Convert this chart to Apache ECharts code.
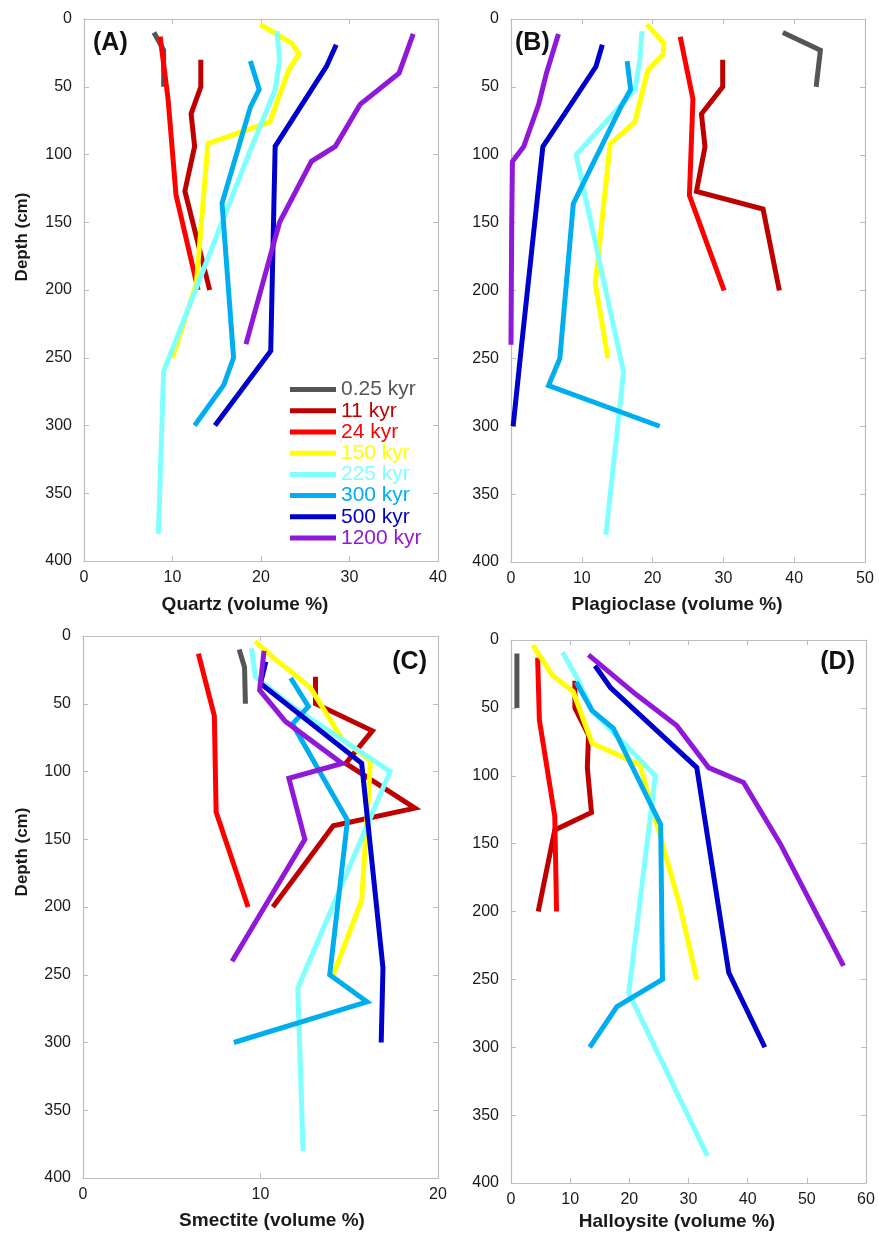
<!DOCTYPE html>
<html><head><meta charset="utf-8">
<script src="https://cdn.jsdelivr.net/npm/echarts@6/dist/echarts.min.js"></script>
<style>html,body{margin:0;padding:0;background:#fff}#c{width:879px;height:1234px}</style>
</head><body><div id="c"></div><script>
// ---- categories ----
const ages = ['0.25 kyr', '11 kyr', '24 kyr', '150 kyr', '225 kyr', '300 kyr', '500 kyr', '1200 kyr'];
const ageColors = ['#555555', '#BE0000', '#FF0000', '#FFFF00', '#80FFFF', '#00AEEF', '#0000CC', '#9018D8'];
const depthTicks = [0, 50, 100, 150, 200, 250, 300, 350, 400];

// ---- sample depths (cm) per age ----
const depth_025 = [10, 23, 50];
const depth_11 = [30, 50, 70, 94, 127, 140, 200];
const depth_24 = [13, 59, 130, 200];
const depth_150 = [4, 18, 26, 38, 76, 92, 195, 250];
const depth_225 = [9, 30, 52, 100, 260, 380];
const depth_300 = [31, 52, 65, 136, 250, 270, 300];
const depth_500 = [19, 35, 94, 245, 300];
const depth_1200 = [11, 40, 63, 94, 105, 150, 240];

// ---- Quartz (volume %) ----
const quartz_025 = [7.9, 9.0, 9.0];
const quartz_11 = [13.2, 13.2, 12.1, 12.5, 11.4, 11.9, 14.2];
const quartz_24 = [8.6, 9.5, 10.4, 12.9];
const quartz_150 = [19.9, 23.5, 24.3, 23.1, 21.0, 14.0, 12.7, 10.0];
const quartz_225 = [21.8, 22.1, 21.6, 18.6, 9.0, 8.4];
const quartz_300 = [18.8, 19.8, 18.8, 15.6, 16.9, 15.8, 12.5];
const quartz_500 = [28.5, 27.4, 21.6, 21.1, 14.8];
const quartz_1200 = [37.2, 35.6, 31.2, 28.4, 25.7, 22.1, 18.3];

// ---- Plagioclase (volume %) ----
const plag_025 = [38.4, 43.7, 43.1];
const plag_11 = [29.9, 29.9, 26.9, 27.4, 26.2, 35.6, 37.9];
const plag_24 = [23.9, 25.7, 25.2, 30.1];
const plag_150 = [19.2, 21.6, 21.5, 19.3, 17.5, 14.0, 11.9, 13.7];
const plag_225 = [18.5, 18.2, 17.5, 9.2, 15.9, 13.4];
const plag_300 = [16.4, 16.9, 15.5, 8.8, 6.9, 5.3, 21.0];
const plag_500 = [12.9, 12.0, 4.5, 1.4, 0.3];
const plag_1200 = [6.7, 5.0, 3.9, 1.8, 0.2, 0.1, 0.0];

// ---- Smectite (volume %) ----
const smec_025 = [8.8, 9.1, 9.15];
const smec_11 = [13.1, 13.1, 16.3, 14.8, 18.7, 14.1, 10.7];
const smec_24 = [6.5, 7.4, 7.5, 9.3];
const smec_150 = [9.7, 10.9, 11.7, 12.8, 14.6, 16.2, 15.7, 14.1];
const smec_225 = [9.5, 9.7, 11.8, 17.3, 12.1, 12.4];
const smec_300 = [11.7, 12.7, 11.8, 14.9, 13.9, 16.0, 8.5];
const smec_500 = [10.3, 10.0, 15.7, 16.9, 16.8];
const smec_1200 = [10.2, 9.95, 11.4, 14.6, 11.6, 12.5, 8.4];

// ---- Halloysite (volume %) ----
const hall_025 = [1.0, 1.0, 1.0];
const hall_11 = [10.8, 10.8, 13.1, 12.9, 13.6, 7.4, 4.6];
const hall_24 = [4.5, 4.8, 7.4, 7.7];
const hall_150 = [3.7, 5.8, 7.0, 10.5, 13.7, 21.8, 28.5, 31.4];
const hall_225 = [8.7, 11.4, 13.7, 24.4, 19.9, 33.2];
const hall_300 = [11.0, 13.7, 17.3, 25.3, 25.6, 17.9, 13.3];
const hall_500 = [14.2, 16.8, 31.4, 36.8, 42.9];
const hall_1200 = [13.1, 21.1, 28.0, 33.4, 39.3, 45.5, 56.2];

const depths = [depth_025, depth_11, depth_24, depth_150, depth_225, depth_300, depth_500, depth_1200];

const panelTitles = ['Quartz (volume %)', 'Plagioclase (volume %)', 'Smectite (volume %)', 'Halloysite (volume %)'];
const panelLetters = ['(A)', '(B)', '(C)', '(D)'];
const panelValues = [
  [quartz_025, quartz_11, quartz_24, quartz_150, quartz_225, quartz_300, quartz_500, quartz_1200],
  [plag_025, plag_11, plag_24, plag_150, plag_225, plag_300, plag_500, plag_1200],
  [smec_025, smec_11, smec_24, smec_150, smec_225, smec_300, smec_500, smec_1200],
  [hall_025, hall_11, hall_24, hall_150, hall_225, hall_300, hall_500, hall_1200]
];
const xMaxes = [40, 50, 20, 60];

// ---- layout ----
const FONT = '"Liberation Sans", Arial, Helvetica, sans-serif';
const grids = [
  {left: 84, top: 19, width: 354, height: 542},
  {left: 511, top: 19, width: 354, height: 543},
  {left: 83, top: 636, width: 355, height: 542},
  {left: 511, top: 640, width: 355, height: 543}
];
const axisColor = '#bcbcbc';
const xAxes = [], yAxes = [], series = [];
grids.forEach((g, i) => {
  const common = {
    gridIndex: i, type: 'value', min: 0,
    axisLine: {show: true, onZero: false, lineStyle: {color: axisColor, width: 1.2}},
    axisTick: {show: true, inside: true, length: 5, lineStyle: {color: axisColor}},
    splitLine: {show: false}
  };
  xAxes.push(Object.assign({}, common, {position: 'bottom', max: xMaxes[i], interval: 10,
    axisLabel: {show: true, color: '#1a1a1a', fontSize: 16, fontFamily: FONT, margin: 9}}));
  xAxes.push(Object.assign({}, common, {position: 'top', max: xMaxes[i], interval: 10, axisLabel: {show: false}}));
  yAxes.push(Object.assign({}, common, {position: 'left', max: 400, interval: 50, inverse: true,
    axisLabel: {show: true, color: '#1a1a1a', fontSize: 16, fontFamily: FONT, margin: 12}}));
  yAxes.push(Object.assign({}, common, {position: 'right', max: 400, interval: 50, inverse: true, axisLabel: {show: false}}));
  panelValues[i].forEach((vals, k) => {
    series.push({
      type: 'line', name: ages[k], xAxisIndex: i * 2, yAxisIndex: i * 2,
      data: vals.map((v, j) => [v, depths[k][j]]),
      showSymbol: false, symbol: 'none', silent: true, animation: false,
      color: ageColors[k],
      lineStyle: {color: ageColors[k], width: 5, join: 'miter'}
    });
  });
});

const graphics = [];
// axis titles
const titlePos = [[245, 605], [677, 605], [272, 1221], [677, 1222]];
titlePos.forEach((p, i) => {
  graphics.push({type: 'text', x: p[0], y: p[1], style: {text: panelTitles[i], fill: '#1a1a1a',
    font: 'bold 19px ' + FONT, textAlign: 'center', textVerticalAlign: 'middle'}});
});
// depth titles
[[22, 237], [22, 852]].forEach(p => {
  graphics.push({type: 'text', x: p[0], y: p[1], rotation: Math.PI / 2,
    style: {text: 'Depth (cm)', fill: '#1a1a1a', font: 'bold 17px ' + FONT, textAlign: 'center', textVerticalAlign: 'middle'}});
});
// panel letters
[[93, 43, 'left'], [515, 43, 'left'], [427, 662, 'right'], [855, 662, 'right']].forEach((p, i) => {
  graphics.push({type: 'text', x: p[0], y: p[1], style: {text: panelLetters[i], fill: '#111',
    font: 'bold 25px ' + FONT, textAlign: p[2], textVerticalAlign: 'middle'}});
});

const chart = echarts.init(document.getElementById('c'), null, {renderer: 'canvas'});
chart.setOption({
  animation: false,
  backgroundColor: '#ffffff',
  grid: grids,
  xAxis: xAxes,
  yAxis: yAxes,
  series: series,
  legend: {
    orient: 'vertical', left: 290, top: 379, padding: 0, itemGap: 0,
    itemWidth: 46, itemHeight: 5, icon: 'rect', selectedMode: false,
    textStyle: {fontSize: 21, lineHeight: 21.2, fontFamily: FONT},
    data: ages.map((a, k) => ({name: a, textStyle: {color: ageColors[k]}}))
  },
  graphic: graphics
});
</script></body></html>
